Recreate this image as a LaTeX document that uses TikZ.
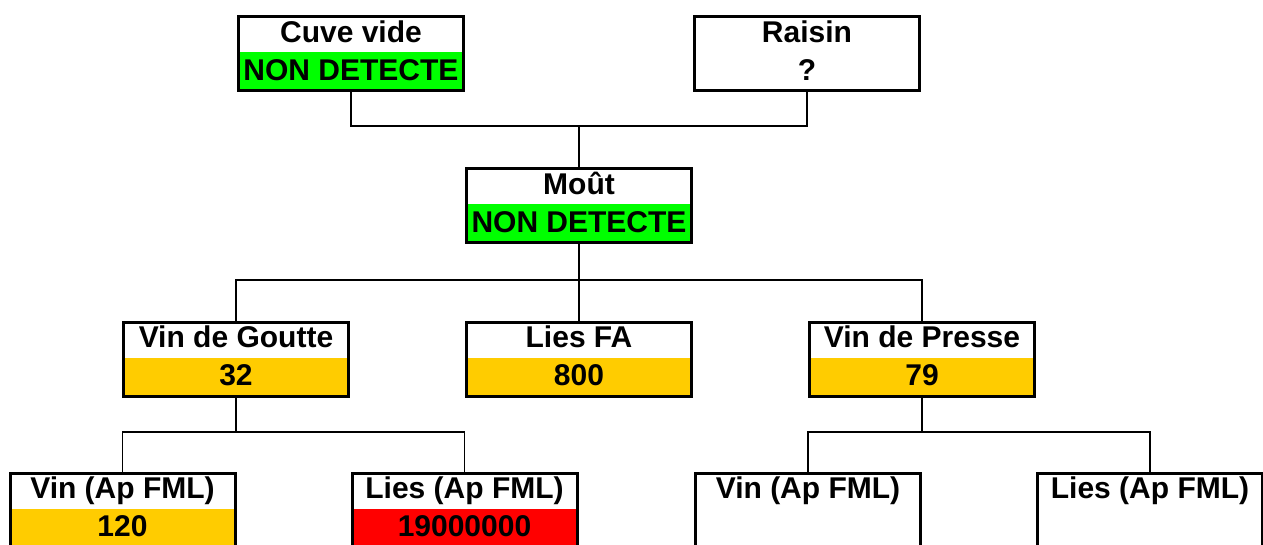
\documentclass[tikz,border=0pt]{standalone}
\usepackage{fontspec}
\setmainfont{Liberation Sans}
\usetikzlibrary{shapes.multipart,positioning}
\definecolor{detgreen}{RGB}{0,255,0}
\definecolor{lowgold}{RGB}{255,204,0}
\definecolor{highred}{RGB}{255,0,0}
\newcommand{\bst}{\rule[-8.25pt]{0pt}{32.5pt}}
\newcommand{\bsv}{\rule[-8.75pt]{0pt}{35.5pt}}
\newcommand{\bstlow}{\rule[-11pt]{0pt}{37.75pt}}

\begin{document}
\begin{tikzpicture}[x=1pt, y=-1pt, line join=miter]
\tikzset{
  box/.style={rectangle split, rectangle split parts=2, rectangle split draw splits=false,
    draw, line width=3pt, minimum width=225pt, inner sep=0pt, anchor=north,
    font=\bfseries\fontsize{30}{36}\selectfont},
  blank/.style={box, rectangle split part fill={white,white}},
  nd/.style={box, rectangle split part fill={white,detgreen}},
  mid/.style={box, rectangle split part fill={white,lowgold}},
  high/.style={box, rectangle split part fill={white,highred}},
  link/.style={line width=1.5pt},
}
\clip (0,0) rectangle (1263,545);
\fill[white] (0,0) rectangle (1263,545);

% first row
\node[nd]    (cuve)   at (351,15.5) {\bst Cuve vide\nodepart{two}\bsv NON DETECTE};
\node[blank] (raisin) at (807,15.5) {\bst Raisin\nodepart{two}\bsv ?};

\node[nd]    (mout)   at (579,167.5) {\bst Moût\nodepart{two}\bsv NON DETECTE};

\node[mid] (goutte) at (236,320.5) {\bst Vin de Goutte\nodepart{two}\bsv 32};
\node[mid] (liesfa) at (579,320.5) {\bst Lies FA\nodepart{two}\bsv 800};
\node[mid] (presse) at (922,320.5) {\bst Vin de Presse\nodepart{two}\bsv 79};

% after FML
\node[mid]   (vinA)  at (122.5,471.5) {\bst Vin (Ap FML)\nodepart{two}\bstlow 120};
\node[high]  (liesA) at (464.5,471.5) {\bst Lies (Ap FML)\nodepart{two}\bstlow 19000000};
\node[blank] (vinB)  at (808,471.5)   {\bst Vin (Ap FML)\nodepart{two}\bstlow};
\node[blank] (liesB) at (1150,471.5)  {\bst Lies (Ap FML)\nodepart{two}\bstlow};

\coordinate (bus1) at (579,126);
\coordinate (bus2) at (579,280);
\coordinate (bus3) at (236,432);
\coordinate (bus4) at (922,432);

\draw[link] (cuve.south) |- (bus1) -| (raisin.south);
\draw[link] (bus1) -- (mout.north);

\draw[link] (mout.south) -- (bus2) -- (liesfa.north);
\draw[link] (goutte.north) |- (bus2) -| (presse.north);

\draw[link] (goutte.south) -- (bus3);
\draw[link] (vinA.north) |- (bus3) -| (liesA.north);

\draw[link] (presse.south) -- (bus4);
\draw[link] (vinB.north) |- (bus4) -| (liesB.north);
\end{tikzpicture}
\end{document}
